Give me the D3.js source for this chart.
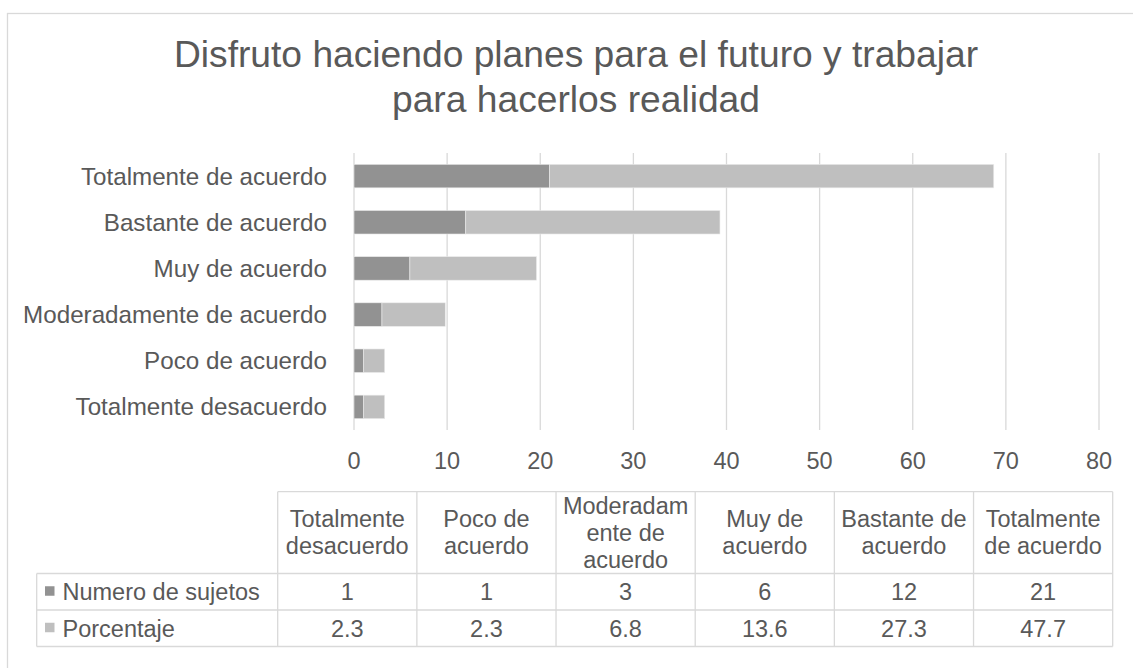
<!DOCTYPE html>
<html>
<head>
<meta charset="utf-8">
<script src="https://cdn.jsdelivr.net/npm/d3@7/dist/d3.min.js"></script>
<style>
  html, body { margin: 0; padding: 0; background: #fff; }
  svg { display: block; font-family: "Liberation Sans", Arial, sans-serif; }
</style>
</head>
<body>
<svg id="chart" width="1133" height="668"></svg>
<script>
// ---- Data ----
const categories = ["Totalmente desacuerdo", "Poco de acuerdo", "Moderadamente de acuerdo", "Muy de acuerdo", "Bastante de acuerdo", "Totalmente de acuerdo"];
const numeroSujetos = [1, 1, 3, 6, 12, 21];
const porcentaje = [2.3, 2.3, 6.8, 13.6, 27.3, 47.7];
const seriesNames = ["Numero de sujetos", "Porcentaje"];
const xTicks = [0, 10, 20, 30, 40, 50, 60, 70, 80];
const titleLines = ["Disfruto haciendo planes para el futuro y trabajar", "para hacerlos realidad"];

// ---- Style ----
const colors = ["#929292", "#bfbfbf"];
const textColor = "#595959";
const gridColor = "#d9d9d9";
const fontSize = 23.5;

const svg = d3.select("#chart");

// outer frame
svg.append("rect")
  .attr("x", 7.5).attr("y", 13.5).attr("width", 1140).attr("height", 680)
  .attr("fill", "#fff").attr("stroke", "#d9d9d9").attr("stroke-width", 1.3);

// title
svg.append("g").selectAll("text").data(titleLines).join("text")
  .attr("x", 576).attr("y", (d, i) => 67 + i * 45)
  .attr("text-anchor", "middle")
  .attr("font-size", 37.2).attr("fill", textColor)
  .text(d => d);

// scales
const x = d3.scaleLinear().domain([0, 80]).range([354, 1099]);
const y = d3.scaleBand().domain(categories.slice().reverse()).range([153, 430])
  .paddingInner(0.49).paddingOuter(0.245);

// gridlines
svg.append("g").selectAll("line").data(xTicks).join("line")
  .attr("x1", d => x(d)).attr("x2", d => x(d))
  .attr("y1", 153).attr("y2", 430)
  .attr("stroke", gridColor).attr("stroke-width", 1.3);

// stacked bars
const rows = categories.map((c, i) => ({ cat: c, v: [numeroSujetos[i], porcentaje[i]] }));
const stackData = [];
rows.forEach(r => {
  let acc = 0;
  r.v.forEach((v, s) => { stackData.push({ cat: r.cat, s, x0: acc, x1: acc + v }); acc += v; });
});
svg.append("g").selectAll("rect").data(stackData).join("rect")
  .attr("x", d => x(d.x0))
  .attr("width", d => x(d.x1) - x(d.x0))
  .attr("y", d => y(d.cat))
  .attr("height", y.bandwidth())
  .attr("fill", d => colors[d.s])
  .attr("stroke", "#ececec").attr("stroke-width", 0.6);

// x tick labels
svg.append("g").selectAll("text").data(xTicks).join("text")
  .attr("x", d => x(d)).attr("y", 468.5)
  .attr("text-anchor", "middle")
  .attr("font-size", fontSize).attr("fill", textColor)
  .text(d => d);

// category labels
svg.append("g").selectAll("text").data(categories).join("text")
  .attr("x", 327).attr("y", d => y(d) + y.bandwidth() / 2 + 8.5)
  .attr("text-anchor", "end")
  .attr("font-size", 24.2).attr("fill", textColor)
  .text(d => d);

// ---- data table ----
const tx = d3.scaleBand().domain(categories).range([277.7, 1112.7]);
const tableTop = 491.7, headBottom = 573.5, rowH = 36.5;
const legendLeft = 36.7;
const tableBottom = headBottom + rowH * 2;
const tg = svg.append("g");
const lineAttr = sel => sel.attr("stroke", gridColor).attr("stroke-width", 1.3);

// horizontal lines
lineAttr(tg.append("line").attr("x1", 277.7).attr("x2", 1112.7).attr("y1", tableTop).attr("y2", tableTop));
[0, 1, 2].forEach(k => {
  lineAttr(tg.append("line").attr("x1", legendLeft).attr("x2", 1112.7)
    .attr("y1", headBottom + k * rowH).attr("y2", headBottom + k * rowH));
});
// vertical lines
lineAttr(tg.append("line").attr("x1", legendLeft).attr("x2", legendLeft).attr("y1", headBottom).attr("y2", tableBottom));
categories.concat(["__end"]).forEach((c, i) => {
  const xx = i < categories.length ? tx(c) : 1112.7;
  lineAttr(tg.append("line").attr("x1", xx).attr("x2", xx).attr("y1", tableTop).attr("y2", tableBottom));
});

// header text with wrapping
const measurer = svg.append("text").attr("font-size", fontSize).attr("visibility", "hidden");
function w(s) { measurer.text(s); return measurer.node().getComputedTextLength(); }
function wrap(text, maxW) {
  const words = text.split(" ");
  const lines = [];
  let cur = "";
  words.forEach(word => {
    const cand = cur ? cur + " " + word : word;
    if (w(cand) <= maxW) { cur = cand; return; }
    if (cur) lines.push(cur);
    cur = "";
    let piece = word;
    while (w(piece) > maxW) {
      let k = piece.length;
      while (k > 1 && w(piece.slice(0, k)) > maxW) k--;
      lines.push(piece.slice(0, k));
      piece = piece.slice(k);
    }
    cur = piece;
  });
  if (cur) lines.push(cur);
  return lines;
}
const lh = 27;
categories.forEach(c => {
  const lines = wrap(c, tx.bandwidth() - 6);
  const cy = (tableTop + headBottom) / 2;
  const start = cy - (lines.length - 1) * lh / 2;
  tg.append("g").selectAll("text").data(lines).join("text")
    .attr("x", tx(c) + tx.bandwidth() / 2)
    .attr("y", (d, i) => start + i * lh + 8.3)
    .attr("text-anchor", "middle")
    .attr("font-size", fontSize).attr("fill", textColor)
    .text(d => d);
});
measurer.remove();

// value rows
[numeroSujetos, porcentaje].forEach((vals, r) => {
  const cy = headBottom + rowH * r + rowH / 2;
  // legend key and name
  tg.append("rect").attr("x", 45).attr("y", cy - 5.5).attr("width", 9.5).attr("height", 9.5)
    .attr("fill", colors[r]);
  tg.append("text").attr("x", 62.5).attr("y", cy + 8.3)
    .attr("font-size", fontSize).attr("fill", textColor).text(seriesNames[r]);
  tg.append("g").selectAll("text").data(vals).join("text")
    .attr("x", (d, i) => tx(categories[i]) + tx.bandwidth() / 2)
    .attr("y", cy + 8.3)
    .attr("text-anchor", "middle")
    .attr("font-size", fontSize).attr("fill", textColor)
    .text(d => r === 1 ? d3.format(".1f")(d) : d);
});
</script>
</body>
</html>
